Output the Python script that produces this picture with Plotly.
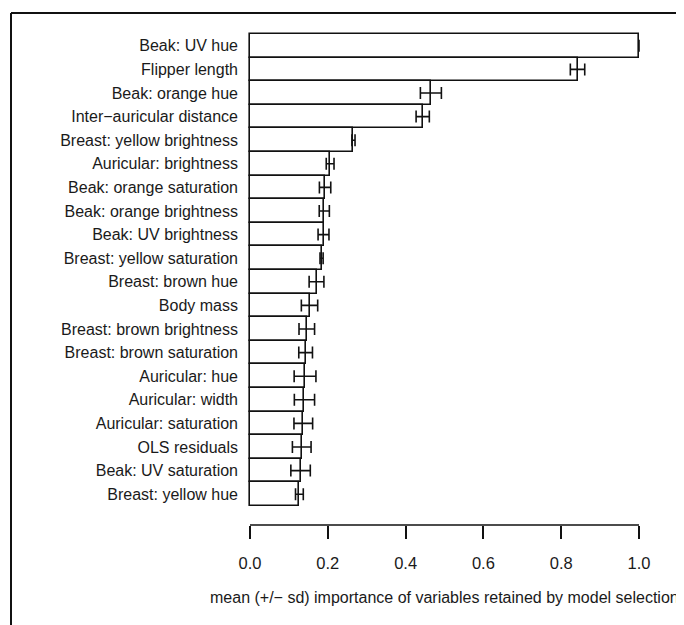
import plotly.graph_objects as go

labels = [
    "Beak: UV hue", "Flipper length", "Beak: orange hue", "Inter\u2212auricular distance",
    "Breast: yellow brightness", "Auricular: brightness", "Beak: orange saturation",
    "Beak: orange brightness", "Beak: UV brightness", "Breast: yellow saturation",
    "Breast: brown hue", "Body mass", "Breast: brown brightness", "Breast: brown saturation",
    "Auricular: hue", "Auricular: width", "Auricular: saturation", "OLS residuals",
    "Beak: UV saturation", "Breast: yellow hue",
]
means = [1.0, 0.842, 0.465, 0.444, 0.266, 0.206, 0.193, 0.191, 0.189, 0.184,
         0.171, 0.153, 0.146, 0.143, 0.1415, 0.140, 0.137, 0.133, 0.130, 0.127]
sds = [0.0, 0.0185, 0.027, 0.017, 0.004, 0.010, 0.0146, 0.013, 0.014, 0.004,
       0.019, 0.021, 0.020, 0.0176, 0.028, 0.026, 0.024, 0.024, 0.025, 0.010]
x_ticks = [0.0, 0.2, 0.4, 0.6, 0.8, 1.0]
x_tick_text = ["0.0", "0.2", "0.4", "0.6", "0.8", "1.0"]
x_title = "mean (+/\u2212 sd) importance of variables retained by model selection"

# page has an 8px body margin: the figure's origin sits at page (8, 8)
OFF = 8
PAD = 3  # px of slack around the data so bar outlines at the edges are not clipped
UNIT_X = 389.0  # px per 1.0 of importance
UNIT_Y = 23.6   # px per bar
W, H = 684 - OFF, 625 - OFF
L, R_ = 250 - OFF - PAD, 684 - 639 - PAD
T, B = 34 - OFF - PAD, 625 - 525
FONT = "Liberation Sans, Arial, sans-serif"
INK = "#111"
TXT = "#1a1a1a"

fig = go.Figure()
fig.add_trace(go.Bar(
    x=means, y=labels, orientation="h",
    marker=dict(color="white", line=dict(color=INK, width=1.6)),
    error_x=dict(type="data", array=sds, visible=True, color=INK,
                 thickness=1.6, width=6),
    hoverinfo="skip",
))

n = len(labels)
extra = 19.0 / UNIT_Y  # gap between last bar and axis line, in category units
plot_w = W - L - R_
plot_h = H - T - B


def px_to_paper_x(px):
    return (px - OFF - L) / plot_w


def px_to_paper_y(py):
    return (H - B - (py - OFF)) / plot_h


# outer frame (top and left lines of the figure box)
fig.add_shape(type="line", xref="paper", yref="paper",
              x0=px_to_paper_x(11), x1=px_to_paper_x(720),
              y0=px_to_paper_y(13), y1=px_to_paper_y(13),
              line=dict(color=INK, width=2))
fig.add_shape(type="line", xref="paper", yref="paper",
              x0=px_to_paper_x(11), x1=px_to_paper_x(11),
              y0=px_to_paper_y(13), y1=px_to_paper_y(660),
              line=dict(color=INK, width=2))
# R-style axis line spanning only the first to last tick
fig.add_shape(type="line", xref="x", yref="paper",
              x0=x_ticks[0], x1=x_ticks[-1], y0=0, y1=0,
              line=dict(color=INK, width=1.5))

fig.add_annotation(text=x_title, xref="paper", yref="paper",
                   x=px_to_paper_x(444), y=0,
                   xanchor="center", yanchor="middle", yshift=-72,
                   showarrow=False, font=dict(family=FONT, size=16, color=TXT))

fig.update_layout(
    width=W, height=H,
    margin=dict(l=L, r=R_, t=T, b=B, pad=0),
    paper_bgcolor="white", plot_bgcolor="white",
    bargap=0, showlegend=False,
    font=dict(family=FONT, size=16, color=TXT),
    xaxis=dict(range=[x_ticks[0] - PAD / UNIT_X, x_ticks[-1] + PAD / UNIT_X],
               tickvals=x_ticks, ticktext=x_tick_text,
               showgrid=False, zeroline=False, showline=False,
               ticks="outside", ticklen=13, tickwidth=1.5,
               tickcolor=INK, ticklabelstandoff=10,
               tickfont=dict(family=FONT, size=16.5, color=TXT)),
    yaxis=dict(type="category", categoryorder="array",
               categoryarray=list(reversed(labels)),
               range=[-0.5 - extra, n - 0.5 + PAD / UNIT_Y],
               showgrid=False, zeroline=False, showline=False, ticks="",
               ticklabelstandoff=11 - PAD,
               tickfont=dict(family=FONT, size=16, color=TXT)),
)

fig.write_html("out.html", config={"displayModeBar": False})
